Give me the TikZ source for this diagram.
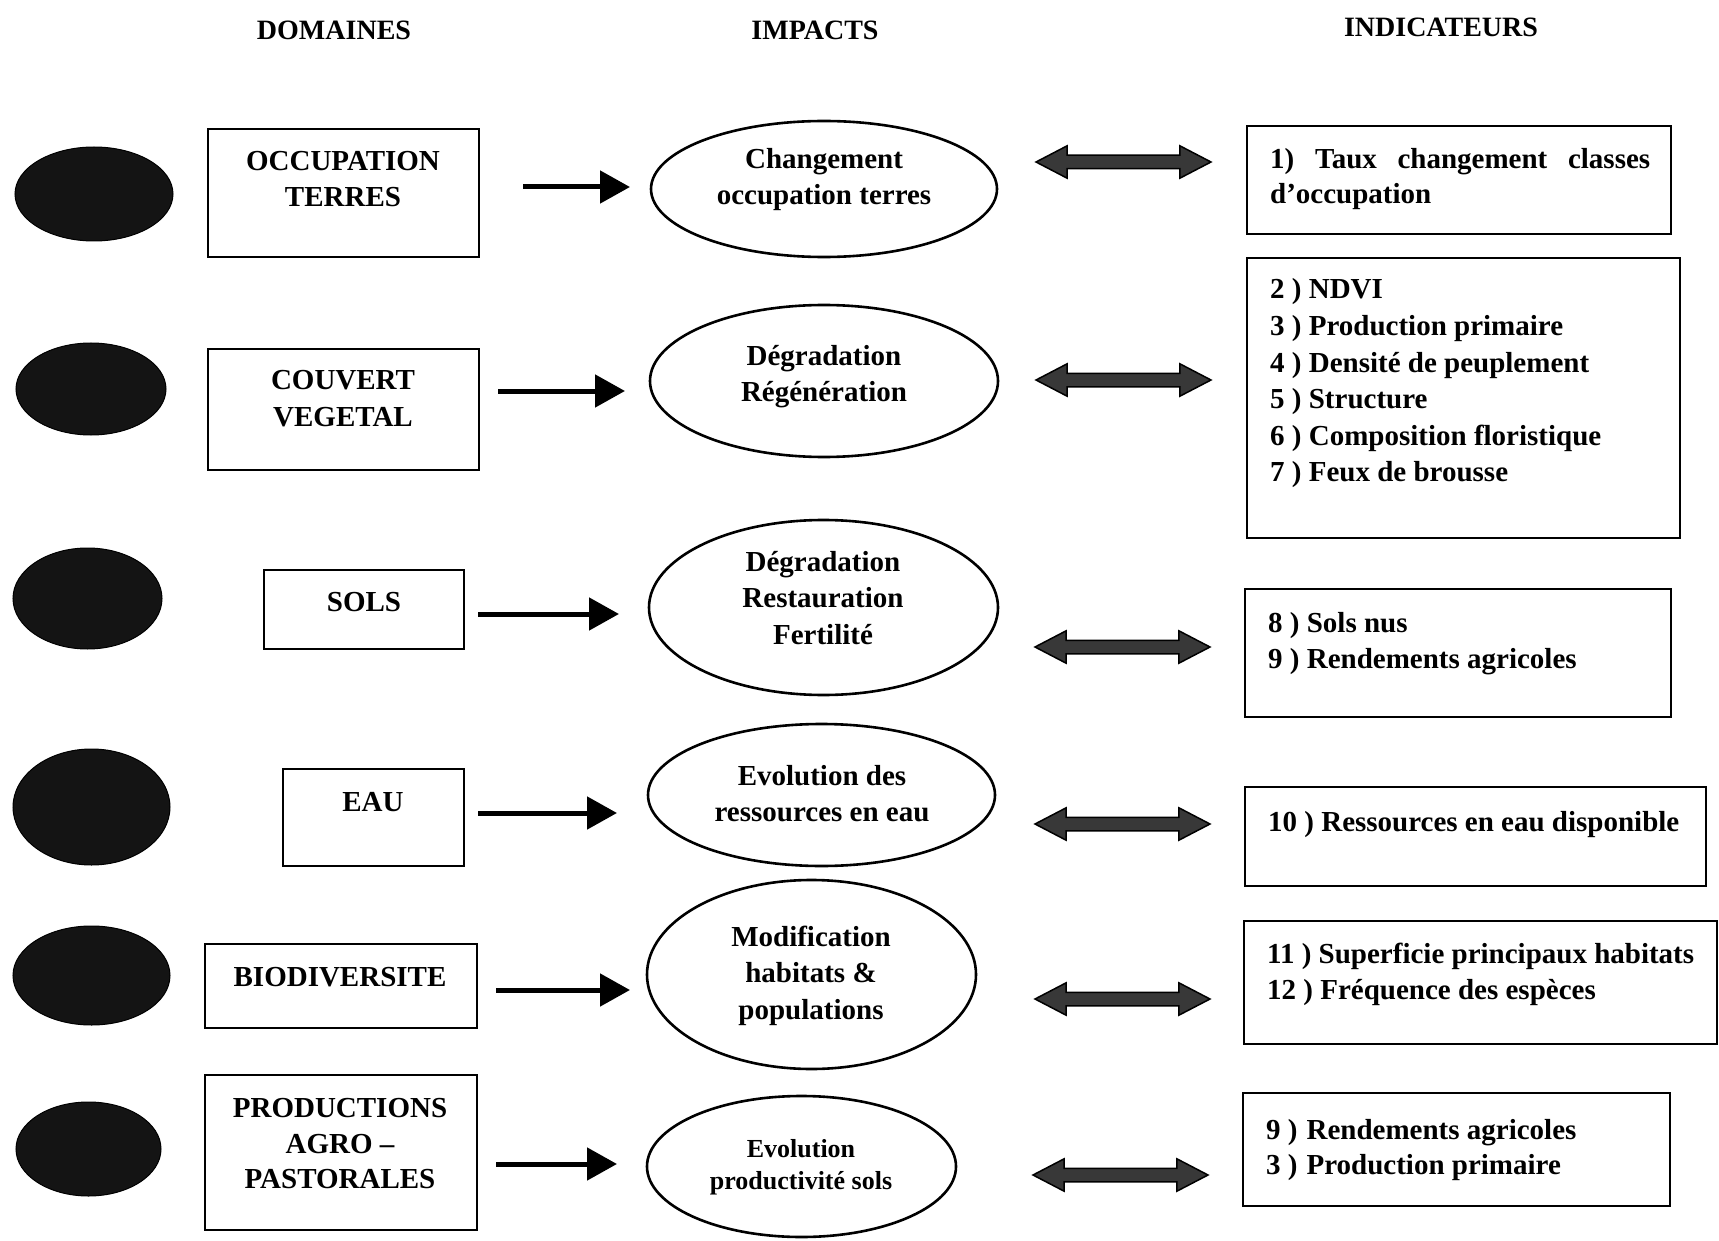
\documentclass[tikz,border=0pt]{standalone}
\usepackage{fontspec}
\setmainfont{Liberation Serif}
\usetikzlibrary{shapes.geometric,shapes.arrows,arrows.meta}
\begin{document}
\begin{tikzpicture}[x=1pt,y=-1pt,
 every node/.style={font=\bfseries\fontsize{29}{36}\selectfont},
 blob/.style={ellipse, fill=black!92, draw=black, line width=1pt, inner sep=0pt},
 dombox/.style={rectangle, draw=black, line width=2.6pt, inner sep=0pt},
 impell/.style={ellipse, draw=black, line width=2.6pt, inner sep=0pt},
 indbox/.style={rectangle, draw=black, line width=2.6pt, inner sep=0pt},
 flow/.style={line width=5pt, -{Triangle[width=32pt,length=30pt]}},
 link/.style={double arrow, draw=black, line width=1.5pt, fill=black!78, inner sep=0pt,
   text height=12pt, text depth=0pt, minimum height=175pt, minimum width=31pt,
   double arrow head extend=9.5pt, double arrow tip angle=55},
 lbl/.style={inner sep=0pt, anchor=base},
 ind/.style={inner sep=0pt, anchor=base west},
 head/.style={inner sep=0pt, anchor=base, font=\bfseries\fontsize{28}{34}\selectfont},
]
\useasboundingbox[fill=white] (0,0) rectangle (1719,1241);

% headers
\node[head] (h1) at (334,40) {DOMAINES};
\node[head] (h2) at (815,40) {IMPACTS};
\node[head] (h3) at (1441,37) {INDICATEURS};

% black blobs
\node[blob, minimum width=158pt, minimum height=94pt] (b1) at (94,194) {};
\node[blob, minimum width=150pt, minimum height=92pt] (b2) at (91,389) {};
\node[blob, minimum width=149pt, minimum height=101pt] (b3) at (87.5,598.5) {};
\node[blob, minimum width=157pt, minimum height=116pt] (b4) at (91.5,807) {};
\node[blob, minimum width=157pt, minimum height=99pt] (b5) at (91.5,975.5) {};
\node[blob, minimum width=145pt, minimum height=94pt] (b6) at (88.5,1149) {};

% domain boxes
\node[dombox, minimum width=271pt, minimum height=128pt] (d1) at (343.5,193) {};
\node[dombox, minimum width=271pt, minimum height=121pt] (d2) at (343.5,409.5) {};
\node[dombox, minimum width=200pt, minimum height=79pt] (d3) at (364,609.5) {};
\node[dombox, minimum width=181pt, minimum height=97pt] (d4) at (373.5,817.5) {};
\node[dombox, minimum width=272pt, minimum height=84pt] (d5) at (341,986) {};
\node[dombox, minimum width=272pt, minimum height=155pt] (d6) at (341,1152.5) {};

\node[lbl] (d1a) at (343,171) {OCCUPATION};
\node[lbl] (d1b) at (343,207) {TERRES};
\node[lbl] (d2a) at (343,389) {COUVERT};
\node[lbl] (d2b) at (343,426) {VEGETAL};
\node[lbl] (d3a) at (364,611) {SOLS};
\node[lbl] (d4a) at (373,811) {EAU};
\node[lbl] (d5a) at (340,986) {BIODIVERSITE};
\node[lbl] (d6a) at (340,1117) {PRODUCTIONS};
\node[lbl] (d6b) at (340,1153) {AGRO --};
\node[lbl] (d6c) at (340,1188) {PASTORALES};

% impact ellipses
\node[impell, minimum width=346pt, minimum height=136pt] (e1) at (824,189) {};
\node[impell, minimum width=348pt, minimum height=152pt] (e2) at (824,381) {};
\node[impell, minimum width=349pt, minimum height=175pt] (e3) at (823.5,607.5) {};
\node[impell, minimum width=347pt, minimum height=142pt] (e4) at (821.5,795) {};
\node[impell, minimum width=329pt, minimum height=189pt] (e5) at (811.5,974.5) {};
\node[impell, minimum width=309pt, minimum height=141pt] (e6) at (801.5,1166.5) {};

\node[lbl] (e1a) at (824,169) {Changement};
\node[lbl] (e1b) at (824,205) {occupation terres};
\node[lbl] (e2a) at (824,365) {Dégradation};
\node[lbl] (e2b) at (824,401) {Régénération};
\node[lbl] (e3a) at (823,571) {Dégradation};
\node[lbl] (e3b) at (823,607) {Restauration};
\node[lbl] (e3c) at (823,644) {Fertilité};
\node[lbl] (e4a) at (822,785) {Evolution des};
\node[lbl] (e4b) at (822,821) {ressources en eau};
\node[lbl] (e5a) at (811,946) {Modification};
\node[lbl] (e5b) at (811,982) {habitats \&};
\node[lbl] (e5c) at (811,1019) {populations};
\node[lbl, font=\bfseries\fontsize{26}{32}\selectfont] (e6a) at (801,1157) {Evolution};
\node[lbl, font=\bfseries\fontsize{26}{32}\selectfont] (e6b) at (801,1189) {productivité sols};

% flow arrows
\coordinate (a1s) at (523,187); \coordinate (a1e) at (630,187);
\coordinate (a2s) at (498,391); \coordinate (a2e) at (625,391);
\coordinate (a3s) at (478,614); \coordinate (a3e) at (619,614);
\coordinate (a4s) at (478,813); \coordinate (a4e) at (617,813);
\coordinate (a5s) at (496,990); \coordinate (a5e) at (630,990);
\coordinate (a6s) at (496,1164); \coordinate (a6e) at (617,1164);
\draw[flow] (a1s) -- (a1e);
\draw[flow] (a2s) -- (a2e);
\draw[flow] (a3s) -- (a3e);
\draw[flow] (a4s) -- (a4e);
\draw[flow] (a5s) -- (a5e);
\draw[flow] (a6s) -- (a6e);

% double arrows
\node[link] (l1) at (1123.5,162) {};
\node[link] (l2) at (1123.5,380) {};
\node[link] (l3) at (1122.5,647) {};
\node[link] (l4) at (1122.5,824) {};
\node[link] (l5) at (1122.5,999) {};
\node[link] (l6) at (1120.5,1175) {};

% indicator boxes
\node[indbox, minimum width=424pt, minimum height=108pt] (i1) at (1459,180) {};
\node[indbox, minimum width=433pt, minimum height=280pt] (i2) at (1463.5,398) {};
\node[indbox, minimum width=426pt, minimum height=128pt] (i3) at (1458,653) {};
\node[indbox, minimum width=461pt, minimum height=99pt] (i4) at (1475.5,836.5) {};
\node[indbox, minimum width=473pt, minimum height=123pt] (i5) at (1480.5,982.5) {};
\node[indbox, minimum width=427pt, minimum height=113pt] (i6) at (1456.5,1149.5) {};

\node[ind] (t1a) at (1270,169) {\makebox[380pt][s]{1) Taux changement classes}};
\node[ind] (t1b) at (1270,204) {d’occupation};
\node[ind] (t2) at (1270,299) {2 ) NDVI};
\node[ind] (t3) at (1270,336) {3 ) Production primaire};
\node[ind] (t4) at (1270,372) {4 ) Densité de peuplement};
\node[ind] (t5) at (1270,408) {5 ) Structure};
\node[ind] (t6) at (1270,445) {6 ) Composition floristique};
\node[ind] (t7) at (1270,481) {7 ) Feux de brousse};
\node[ind] (t8) at (1268,632) {8 ) Sols nus};
\node[ind] (t9) at (1268,668) {9 ) Rendements agricoles};
\node[ind] (t10) at (1268,831) {10 ) Ressources en eau disponible};
\node[ind] (t11) at (1267,963) {11 ) Superficie principaux habitats};
\node[ind] (t12) at (1267,999) {12 ) Fréquence des espèces};
\node[ind] (t13) at (1266,1139) {9 )\hspace{9pt}Rendements agricoles};
\node[ind] (t14) at (1266,1174) {3 )\hspace{9pt}Production primaire};
\end{tikzpicture}
\end{document}
